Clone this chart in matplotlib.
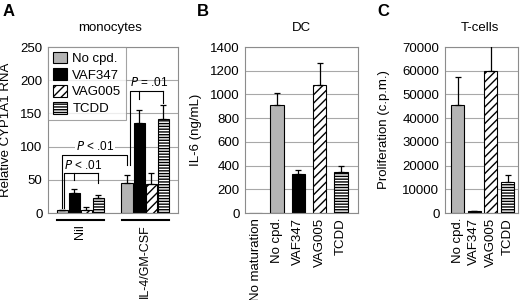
import matplotlib
matplotlib.use('Agg')
import matplotlib.pyplot as plt
from matplotlib.patches import Patch
import numpy as np

plt.rcParams['font.family'] = ['Liberation Sans', 'DejaVu Sans']
plt.rcParams['hatch.linewidth'] = 1.0

# panel A: CYP1A1 RNA in monocytes
compounds = ['No cpd.', 'VAF347', 'VAG005', 'TCDD']
groups = ['Nil', 'IL-4/GM-CSF']
nil_vals = [4, 30, 4, 22]
nil_err = [1, 6, 5, 5]
il4_vals = [45, 135, 44, 142]
il4_err = [12, 20, 16, 21]

# panel B: IL-6 from DC
dc_labels = ['No maturation', 'No cpd.', 'VAF347', 'VAG005', 'TCDD']
dc_vals = [0, 910, 325, 1080, 345]
dc_err = [0, 100, 35, 185, 50]

# panel C: T-cell proliferation
t_labels = ['No cpd.', 'VAF347', 'VAG005', 'TCDD']
t_vals = [45500, 700, 60000, 13000]
t_err = [12000, 200, 11000, 3000]

gray = '#b4b4b4'
colors = [gray, 'black', 'white', 'white']
hatches = [None, None, '////', '------']
gridc = '#a8a8a8'


def style(ax):
    ax.grid(axis='y', color=gridc, linewidth=0.8)
    ax.set_axisbelow(True)
    for s in ax.spines.values():
        s.set_color('#8c8c8c')
        s.set_linewidth(0.8)
    ax.tick_params(axis='y', length=0, pad=4, labelsize=9.5)
    ax.tick_params(axis='x', length=0, labelsize=9.5)


def bars(ax, x, vals, err, cols, hts, width):
    for xi, v, e, c, h in zip(x, vals, err, cols, hts):
        ax.bar(xi, v, width, color=c, edgecolor='black', linewidth=0.8,
               hatch=h, zorder=2)
        if e > 0:
            ax.errorbar(xi, v, yerr=[[0], [e]], fmt='none', ecolor='black',
                        elinewidth=0.9, capsize=2.5, capthick=0.9, zorder=3)


fig = plt.figure(figsize=(5.2, 3.0), dpi=100)

# ---- A ----
axA = fig.add_axes([48/520, 1-213/300, 130/520, 166/300])
style(axA)
offs = np.array([-1.5, -0.5, 0.5, 1.5])
centers = [2.7, 8.1]
bars(axA, centers[0] + offs, nil_vals, nil_err, colors, hatches, 0.95)
bars(axA, centers[1] + offs, il4_vals, il4_err, colors, hatches, 0.95)
axA.set_xlim(0, 130/12)
axA.set_ylim(0, 250)
axA.set_yticks(range(0, 251, 50))
axA.set_xticks([])
axA.set_ylabel('Relative CYP1A1 RNA', fontsize=9.5)
axA.yaxis.set_label_coords(-0.275, 0.5)
axA.text(0.48, 1.114, 'monocytes', transform=axA.transAxes, ha='center',
         va='center', fontsize=9.5)

tr = axA.get_xaxis_transform()
for c, g in zip(centers, groups):
    axA.plot([c - 1.95, c + 1.95], [-0.045, -0.045], color='black', lw=1.5,
             transform=tr, clip_on=False)
    axA.text(c, -0.07, g, transform=tr, rotation=90, ha='center', va='top',
             fontsize=9)

# significance brackets
bk = dict(color='black', lw=0.8, zorder=4)
x0 = centers[0] + offs
x1 = centers[1] + offs
axA.plot([x0[0] - 0.05, x0[0] - 0.05, x1[0], x1[0]], [8, 87, 87, 72], **bk)
axA.text((x0[0] + x1[0]) / 2, 100, '$P$ < .01', ha='center', va='center',
         fontsize=8.5, zorder=5, bbox=dict(fc='white', ec='none', pad=0.5))
axA.plot([x0[0] + 0.15, x0[0] + 0.15, x0[3]], [8, 60, 60], **bk)
axA.plot([x0[1], x0[1]], [60, 50], **bk)
axA.plot([x0[3], x0[3]], [60, 45], **bk)
axA.text(x0[1] + 0.7, 71, '$P$ < .01', ha='center', va='center',
         fontsize=8.5, zorder=5)
axA.plot([x1[0] + 0.2, x1[0] + 0.2, x1[3]], [72, 184, 184], **bk)
axA.plot([x1[1], x1[1]], [184, 172], **bk)
axA.plot([x1[3], x1[3]], [184, 166], **bk)
axA.text((x1[0] + x1[3]) / 2 + 0.3, 197, '$P$ = .01', ha='center',
         va='center', fontsize=8.5, zorder=5)

handles = [Patch(facecolor=c, edgecolor='black', hatch=h, linewidth=0.8)
           for c, h in zip(colors, hatches)]
leg = axA.legend(handles, compounds, loc='upper left', fontsize=9.5,
                 frameon=True, fancybox=False, borderaxespad=0,
                 handlelength=1.1, handleheight=1.0, handletextpad=0.4,
                 labelspacing=0.25, borderpad=0.35)
leg.get_frame().set_edgecolor('#8c8c8c')
leg.get_frame().set_linewidth(0.8)

# ---- B ----
axB = fig.add_axes([245/520, 1-213/300, 113/520, 166/300])
style(axB)
dc_cols = ['white', gray, 'black', 'white', 'white']
dc_hatch = [None, None, None, '////', '------']
bars(axB, np.arange(len(dc_vals)), dc_vals, dc_err, dc_cols, dc_hatch, 0.62)
axB.set_xlim(-0.5, 4.8)
axB.set_ylim(0, 1400)
axB.set_yticks(range(0, 1401, 200))
axB.set_xticks(np.arange(len(dc_labels)))
axB.set_xticklabels(dc_labels, rotation=90)
axB.set_ylabel('IL-6 (ng/mL)', fontsize=9.5)
axB.yaxis.set_label_coords(-0.38, 0.5)
axB.text(0.5, 1.114, 'DC', transform=axB.transAxes, ha='center',
         va='center', fontsize=9.5)

# ---- C ----
axC = fig.add_axes([445/520, 1-213/300, 73/520, 166/300])
style(axC)
bars(axC, np.arange(len(t_vals)), t_vals, t_err, colors, hatches, 0.78)
axC.set_xlim(-0.75, 3.63)
axC.set_ylim(0, 70000)
axC.set_yticks(range(0, 70001, 10000))
axC.set_xticks(np.arange(len(t_labels)))
axC.set_xticklabels(t_labels, rotation=90)
axC.set_ylabel('Proliferation (c.p.m.)', fontsize=9.5)
axC.yaxis.set_label_coords(-0.76, 0.5)
axC.text(0.48, 1.114, 'T-cells', transform=axC.transAxes, ha='center',
         va='center', fontsize=9.5)

for x, l in [(3, 'A'), (197, 'B'), (377, 'C')]:
    fig.text(x/520, 1-12/300, l, fontsize=12, fontweight='bold', va='center')

fig.savefig('out.png', dpi=100)
